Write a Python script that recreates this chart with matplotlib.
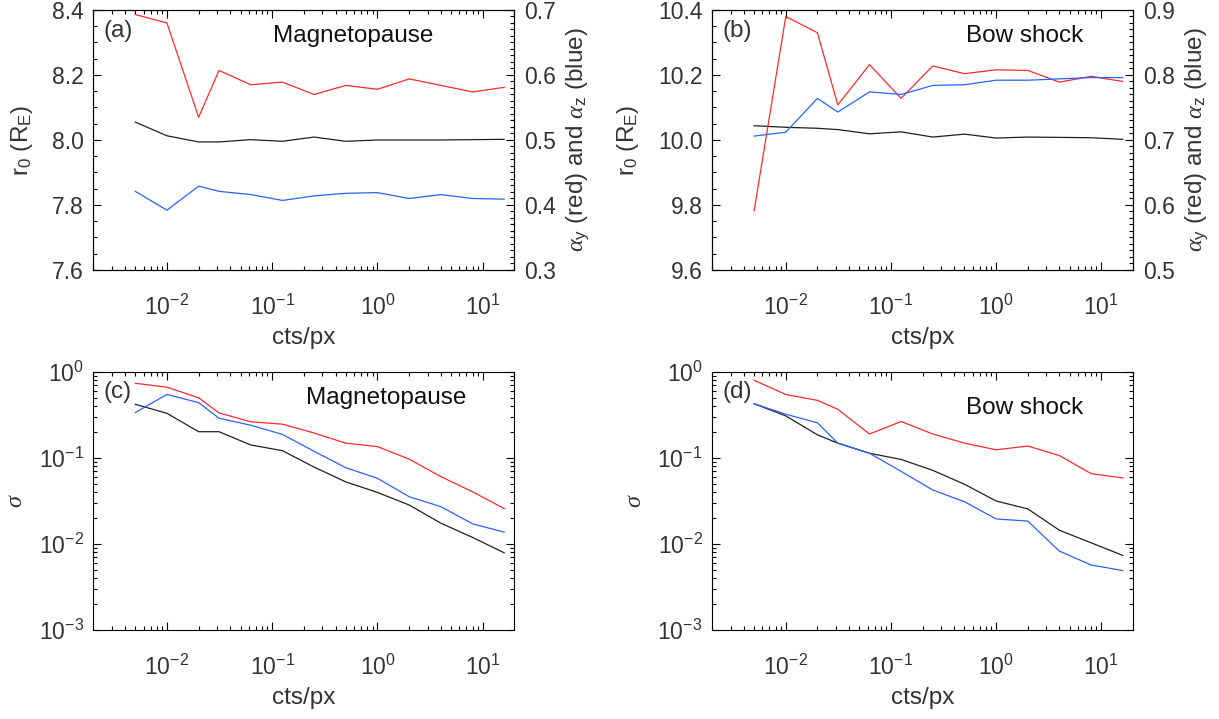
# Four-panel fit summary: r0 / alpha (top) and sigma (bottom) versus counts per pixel
import matplotlib.pyplot as plt
from matplotlib.ticker import MultipleLocator, LogLocator, NullFormatter

plt.rcParams['font.family'] = ['Liberation Sans', 'DejaVu Sans']
plt.rcParams['mathtext.fontset'] = 'custom'
plt.rcParams['mathtext.rm'] = 'Liberation Sans'
plt.rcParams['mathtext.it'] = 'Liberation Serif:italic'
plt.rcParams['mathtext.bf'] = 'Liberation Sans:bold'

# ---------------------------------------------------------------
# Data
cts = [0.005, 0.01, 0.02, 0.03125, 0.0625, 0.125, 0.25, 0.5, 1, 2, 4, 8, 16]

# (a) Magnetopause
mp_r0 = [8.055, 8.013, 7.994, 7.994, 8.001, 7.996, 8.009, 7.996, 8.0, 8.0, 8.0, 8.001, 8.002]
mp_ay = [0.693, 0.680, 0.535, 0.607, 0.585, 0.589, 0.570, 0.584, 0.578, 0.594, 0.584, 0.574, 0.581]
mp_az = [0.421, 0.392, 0.429, 0.421, 0.416, 0.407, 0.414, 0.418, 0.419, 0.410, 0.416, 0.410, 0.409]

# (b) Bow shock
bs_r0 = [10.044, 10.039, 10.036, 10.032, 10.019, 10.025, 10.009, 10.018, 10.006, 10.009, 10.008, 10.007, 10.002]
bs_ay = [0.591, 0.890, 0.865, 0.754, 0.816, 0.764, 0.814, 0.802, 0.808, 0.807, 0.789, 0.798, 0.790]
bs_az = [0.706, 0.712, 0.764, 0.743, 0.774, 0.770, 0.784, 0.785, 0.792, 0.792, 0.794, 0.796, 0.796]

# (c) Magnetopause sigma
mp_sig_r0 = [0.418, 0.329, 0.201, 0.201, 0.141, 0.121, 0.078, 0.0525, 0.0396, 0.0283, 0.0174, 0.0119, 0.00788]
mp_sig_ay = [0.734, 0.661, 0.498, 0.332, 0.262, 0.246, 0.194, 0.148, 0.135, 0.0966, 0.0605, 0.0403, 0.0257]
mp_sig_az = [0.335, 0.545, 0.437, 0.288, 0.239, 0.187, 0.119, 0.0767, 0.0578, 0.0353, 0.0271, 0.0171, 0.0137]

# (d) Bow shock sigma
bs_sig_r0 = [0.425, 0.307, 0.185, 0.148, 0.113, 0.0957, 0.0715, 0.0493, 0.0315, 0.0255, 0.0144, 0.0103, 0.00735]
bs_sig_ay = [0.795, 0.544, 0.465, 0.366, 0.189, 0.264, 0.189, 0.148, 0.124, 0.137, 0.106, 0.0655, 0.0584]
bs_sig_az = [0.425, 0.321, 0.255, 0.148, 0.113, 0.0696, 0.0422, 0.0309, 0.0195, 0.0184, 0.00824, 0.00569, 0.0049]

RED = '#ff2a2a'
BLUE = '#2a62ff'
BLK = '#202020'
TXT = '#333333'
LW = 0.9
TFS = 16.5   # tick labels
LFS = 17.5   # axis labels and annotations

fig = plt.figure(figsize=(12.19, 7.19), dpi=100)


def style_x(ax):
    ax.set_xscale('log')
    ax.set_xlim(0.002, 20)
    ax.xaxis.set_major_locator(LogLocator(base=10, numticks=10))
    ax.xaxis.set_minor_locator(LogLocator(base=10, subs=range(2, 10), numticks=20))
    ax.xaxis.set_minor_formatter(NullFormatter())
    ax.set_xlabel('cts/px', fontsize=LFS, color=TXT, labelpad=5)


def tick_style(ax, **kw):
    ax.tick_params(which='major', direction='in', length=6, width=0.8, labelsize=TFS, colors='black',
                   labelcolor=TXT, pad=7, **kw)
    ax.tick_params(which='minor', direction='in', length=3, width=0.8, colors='black', **kw)


def top_panel(rect, r0, ay, az, r0lim, alim, label, name, name_x):
    ax = fig.add_axes(rect)
    style_x(ax)
    ax.plot(cts, r0, color=BLK, lw=LW)
    ax.set_ylim(*r0lim)
    ax.yaxis.set_major_locator(MultipleLocator(0.2))
    ax.yaxis.set_minor_locator(MultipleLocator(0.05))
    ax.yaxis.set_major_formatter(plt.FuncFormatter(lambda v, p: f'{v:.1f}'))
    tick_style(ax, top=True, right=False)
    ax.tick_params(axis='x', pad=18)
    ax.set_ylabel(r'r$_0$ (R$_\mathrm{E}$)', fontsize=LFS, color=TXT, labelpad=12)

    ax2 = ax.twinx()
    ax2.plot(cts, ay, color=RED, lw=LW)
    ax2.plot(cts, az, color=BLUE, lw=LW)
    ax2.set_ylim(*alim)
    ax2.yaxis.set_major_locator(MultipleLocator(0.1))
    ax2.yaxis.set_minor_locator(MultipleLocator(0.01))
    ax2.yaxis.set_major_formatter(plt.FuncFormatter(lambda v, p: f'{v:.1f}'))
    tick_style(ax2, right=True)
    ax2.set_ylabel(r'$\alpha_\mathrm{y}$ (red) and $\alpha_\mathrm{z}$ (blue)', fontsize=LFS,
                   color=TXT, labelpad=6)

    ax.text(0.025, 0.92, label, transform=ax.transAxes, fontsize=LFS, color=TXT, va='center')
    ax.text(name_x, 0.90, name, transform=ax.transAxes, fontsize=LFS, color='#111111',
            va='center', ha='center')
    return ax


def bottom_panel(rect, s_r0, s_ay, s_az, label, name, name_x, name_y):
    ax = fig.add_axes(rect)
    style_x(ax)
    ax.plot(cts, s_r0, color=BLK, lw=LW)
    ax.plot(cts, s_ay, color=RED, lw=LW)
    ax.plot(cts, s_az, color=BLUE, lw=LW)
    ax.set_yscale('log')
    ax.set_ylim(1e-3, 1)
    ax.yaxis.set_major_locator(LogLocator(base=10, numticks=10))
    ax.yaxis.set_minor_locator(LogLocator(base=10, subs=range(2, 10), numticks=20))
    ax.yaxis.set_minor_formatter(NullFormatter())
    tick_style(ax, top=True, right=True)
    ax.tick_params(axis='x', pad=18)
    ax.set_ylabel(r'$\sigma$', fontsize=LFS, color=TXT, labelpad=8)
    ax.text(0.025, 0.92, label, transform=ax.transAxes, fontsize=LFS, color=TXT, va='center')
    ax.text(name_x, name_y, name, transform=ax.transAxes, fontsize=LFS, color='#111111',
            va='center', ha='center')
    return ax


top_panel([0.0766, 0.6245, 0.3454, 0.3616], mp_r0, mp_ay, mp_az, (7.6, 8.4), (0.3, 0.7),
          '(a)', 'Magnetopause', 0.617)
top_panel([0.5843, 0.6245, 0.3451, 0.3616], bs_r0, bs_ay, bs_az, (9.6, 10.4), (0.5, 0.9),
          '(b)', 'Bow shock', 0.742)
bottom_panel([0.0766, 0.1238, 0.3454, 0.3592], mp_sig_r0, mp_sig_ay, mp_sig_az,
             '(c)', 'Magnetopause', 0.695, 0.898)
bottom_panel([0.5843, 0.1238, 0.3451, 0.3592], bs_sig_r0, bs_sig_ay, bs_sig_az,
             '(d)', 'Bow shock', 0.743, 0.86)

plt.savefig('out.png', dpi=100)
